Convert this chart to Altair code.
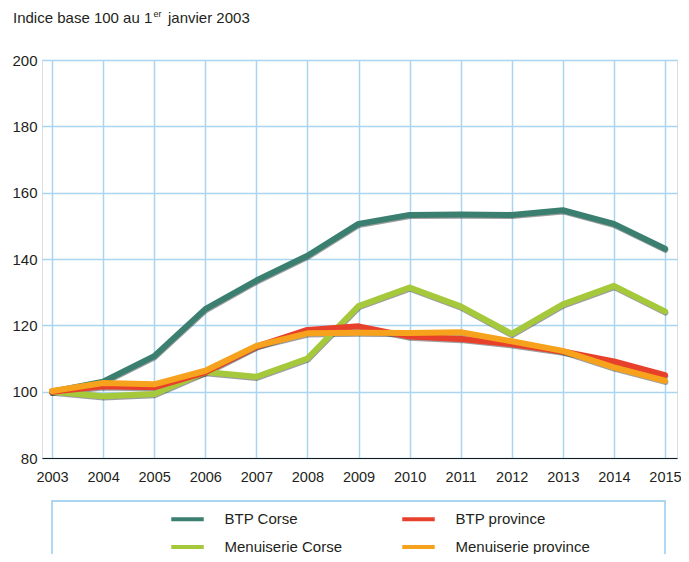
import altair as alt
import pandas as pd

years = list(range(2003, 2016))
btp_corse = [100, 103.0, 110.7, 124.9, 133.5, 141.0, 150.6, 153.3, 153.4, 153.3, 154.7, 150.6, 143.1]
men_corse = [100, 98.6, 99.3, 105.9, 104.5, 110.0, 125.8, 131.4, 125.7, 117.4, 126.3, 131.9, 124.2]
btp_prov = [100, 101.6, 101.3, 105.8, 113.6, 118.6, 119.7, 116.6, 115.9, 114.3, 112.1, 109.1, 105.0]
men_prov = [100.2, 102.6, 102.2, 106.3, 113.8, 117.6, 117.8, 117.7, 117.9, 115.2, 112.3, 107.3, 103.3]

# legend order (column-major: col 1 = Corse, col 2 = province)
series_names = ["BTP Corse", "Menuiserie Corse", "BTP province", "Menuiserie province"]
series_colors = ["#3b7f71", "#a5c93b", "#e8412b", "#f6a21d"]
draw_order = ["BTP Corse", "Menuiserie Corse", "BTP province", "Menuiserie province"]
values_by_name = {
    "BTP Corse": btp_corse,
    "BTP province": btp_prov,
    "Menuiserie Corse": men_corse,
    "Menuiserie province": men_prov,
}

rows = []
for k, name in enumerate(draw_order):
    for y, v in zip(years, values_by_name[name]):
        rows.append({"annee": y, "indice": v, "serie": name, "z": k})
df = pd.DataFrame(rows)

FONT = "Liberation Sans"
TXT = "#231f20"
GRID = "#a9d5f0"

x_enc = alt.X(
    "annee:Q",
    scale=alt.Scale(domain=[2002.804, 2015.235], nice=False, zero=False),
    axis=alt.Axis(
        values=years, format="d", title=None, grid=True, gridColor=GRID, gridWidth=1.5,
        domain=True, domainColor="#1a1a1a", domainWidth=1.2, ticks=False,
        labelFont=FONT, labelFontSize=14.5, labelColor=TXT, labelPadding=12,
        labelFlush=False,
    ),
)
y_enc = alt.Y(
    "indice:Q",
    scale=alt.Scale(domain=[80, 200], nice=False, zero=False),
    axis=alt.Axis(
        values=[80, 100, 120, 140, 160, 180, 200], title=None, grid=True,
        gridColor=GRID, gridWidth=1.5, domain=False, ticks=False,
        labelFont=FONT, labelFontSize=15, labelColor=TXT, labelPadding=5,
    ),
)

shadow = alt.Chart(df).mark_line(
    color="#2a2a2a", strokeWidth=6, opacity=0.45, yOffset=1.2, xOffset=0.4,
    strokeJoin="round", strokeCap="round",
).encode(x=x_enc, y=y_enc, detail="serie:N", order="annee:Q")

lines = alt.Chart(df).mark_line(
    strokeWidth=6, strokeJoin="round", strokeCap="round",
).encode(
    x=x_enc,
    y=y_enc,
    color=alt.Color(
        "serie:N",
        sort=series_names,
        scale=alt.Scale(domain=series_names, range=series_colors),
        legend=alt.Legend(
            orient="none", legendX=127, legendY=440.5, columns=2, columnPadding=51,
            rowPadding=1, symbolType="stroke", symbolSize=1056, symbolStrokeWidth=4,
            labelFont=FONT, labelFontSize=15, labelColor=TXT, labelOffset=18.5,
            title=None, padding=0, labelLimit=300,
        ),
    ),
    order="annee:Q",
)

frame = alt.Chart(pd.DataFrame({"a": [0]})).mark_rect(
    fill=None, stroke=GRID, strokeWidth=1.8
).encode(x=alt.value(10), x2=alt.value(623), y=alt.value(441), y2=alt.value(520))

t1 = alt.Chart(pd.DataFrame({"t": ["Indice base 100 au 1"]})).mark_text(
    font=FONT, fontSize=15, color=TXT, align="left", baseline="alphabetic"
).encode(text="t:N", x=alt.value(-29), y=alt.value(-37))
t2 = alt.Chart(pd.DataFrame({"t": ["er"]})).mark_text(
    font=FONT, fontSize=9, color=TXT, align="left", baseline="alphabetic"
).encode(text="t:N", x=alt.value(111.5), y=alt.value(-43.5))
t3 = alt.Chart(pd.DataFrame({"t": ["janvier 2003"]})).mark_text(
    font=FONT, fontSize=15, color=TXT, align="left", baseline="alphabetic"
).encode(text="t:N", x=alt.value(126), y=alt.value(-37))

chart = alt.layer(frame, shadow, lines, t1, t2, t3).properties(
    width=635, height=398,
    autosize=alt.AutoSizeParams(type="none"),
    padding={"left": 34, "top": 52, "right": 4, "bottom": 96},
).configure_view(stroke=None).configure(background="white")

chart.save("out.html", embed_options={"renderer": "svg", "actions": False})
